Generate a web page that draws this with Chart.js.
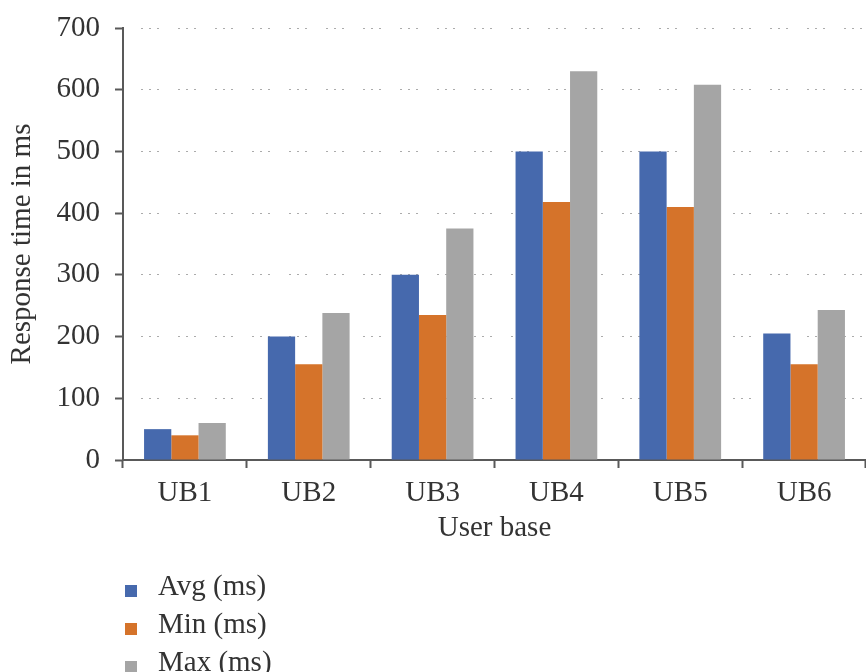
<!DOCTYPE html>
<html>
<head>
<meta charset="utf-8">
<script src="https://cdn.jsdelivr.net/npm/chart.js@4"></script>
<style>
    html, body { margin: 0; padding: 0; background: #fff; }
    canvas { display: block; }
</style>
</head>
<body>
<canvas id="chart-respuesta" width="866" height="672"></canvas>
<script>
const userBases = ["UB1", "UB2", "UB3", "UB4", "UB5", "UB6"];
const avgMs = [50, 200, 300, 500, 500, 205];
const minMs = [40, 155, 235, 418, 410, 155];
const maxMs = [60, 238, 375, 630, 608, 243];
const yTicks = [0, 100, 200, 300, 400, 500, 600, 700];

const serif = "'Liberation Serif', 'DejaVu Serif', serif";
const textColor = "#333";
const axisColor = "#595959";

// legend stacked in a column under the axis title
const columnLegend = {
    id: "columnLegend",
    afterDraw(chart) {
        const ctx = chart.ctx;
        ctx.save();
        ctx.font = `29px ${serif}`;
        ctx.textBaseline = "middle";
        ctx.textAlign = "left";
        chart.data.datasets.forEach((ds, i) => {
            const y = 587 + i * 38;
            ctx.fillStyle = ds.backgroundColor;
            ctx.fillRect(125, y - 2, 12, 12);
            ctx.fillStyle = textColor;
            ctx.fillText(ds.label, 158, y);
        });
        ctx.restore();
    }
};

new Chart(document.getElementById("chart-respuesta"), {
    type: "bar",
    data: {
        labels: userBases,
        datasets: [
            { label: "Avg (ms)", data: avgMs, backgroundColor: "#4669ad" },
            { label: "Min (ms)", data: minMs, backgroundColor: "#d5732a" },
            { label: "Max (ms)", data: maxMs, backgroundColor: "#a5a5a5" }
        ]
    },
    options: {
        responsive: false,
        animation: false,
        layout: { padding: { top: 28, left: 0, right: 0, bottom: 112 } },
        datasets: {
            bar: { barPercentage: 1, categoryPercentage: 0.66 }
        },
        plugins: {
            legend: { display: false },
            tooltip: { enabled: false }
        },
        scales: {
            x: {
                grid: {
                    offset: true,
                    drawOnChartArea: false,
                    drawTicks: true,
                    tickLength: 8,
                    tickColor: axisColor,
                    tickWidth: 2
                },
                border: { color: axisColor, width: 2 },
                ticks: {
                    color: textColor,
                    padding: 8,
                    font: { family: serif, size: 29 }
                },
                title: {
                    display: true,
                    text: "User base",
                    color: textColor,
                    padding: { top: 0, bottom: 14 },
                    font: { family: serif, size: 29 }
                },
                afterFit: scale => { scale.height = 100; }
            },
            y: {
                min: 0,
                max: 700,
                afterBuildTicks: scale => {
                    scale.ticks = yTicks.map(v => ({ value: v }));
                },
                grid: {
                    color: "#ababab",
                    lineWidth: 1,
                    drawTicks: true,
                    tickLength: 8,
                    tickColor: axisColor,
                    tickWidth: 2,
                    tickBorderDash: []
                },
                border: {
                    color: axisColor,
                    width: 2,
                    dash: [2, 6, 2, 6, 2, 19],
                    dashOffset: 20
                },
                ticks: {
                    color: textColor,
                    padding: 15,
                    font: { family: serif, size: 29 }
                },
                title: {
                    display: true,
                    text: "Response time in ms",
                    color: textColor,
                    padding: { top: 5, bottom: 0 },
                    font: { family: serif, size: 29 }
                },
                afterFit: scale => {
                    scale.width = 123;
                    scale.paddingTop = 0;
                    scale.paddingBottom = 0;
                }
            }
        }
    },
    plugins: [columnLegend]
});
</script>
</body>
</html>
